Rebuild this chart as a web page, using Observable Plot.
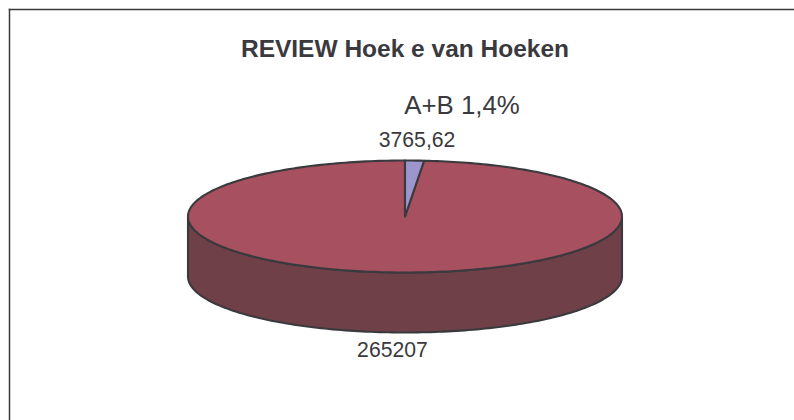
<!DOCTYPE html>
<html>
<head>
<meta charset="utf-8">
<style>html,body{margin:0;padding:0;background:#fff}svg{display:block}</style>
<script src="https://cdn.jsdelivr.net/npm/d3@7"></script>
<script src="https://cdn.jsdelivr.net/npm/@observablehq/plot@0.6"></script>
</head>
<body>
<script>
const title = "REVIEW Hoek e van Hoeken";
const categories = ["A+B", "Rest"];
const values = [3765.62, 265207];
const valueLabels = ["3765,62", "265207"];
const percentLabel = "A+B 1,4%";
const sliceColors = ["#9c96cc", "#a65060"];
const sideColor = "#704048";
const ink = "#3a3a3e";

const total = d3.sum(values);
const depth = 60 / 56;            // cylinder height in pie units
const arc = (from, to) => {
  const n = Math.max(2, Math.ceil(Math.abs(to - from) / 0.02));
  return d3.range(n + 1).map(i => {
    const a = from + (to - from) * i / n;
    return {x: Math.sin(a), y: Math.cos(a)};
  });
};
const tau = 2 * Math.PI;
const split = tau * values[0] / total;

const centre = {x: 0, y: 0};
const wedge = (a, b) => [centre, ...arc(a, b)];
const front = arc(Math.PI / 2, 3 * Math.PI / 2);
const side = [...front, ...front.slice().reverse().map(p => ({x: p.x, y: p.y - depth}))];
const mid0 = split / 2, mid1 = (split + tau) / 2;

const line = (d, fill) => Plot.line(d, {
  x: "x", y: "y", fill, stroke: ink, strokeWidth: 2.1,
  curve: "linear-closed", strokeLinejoin: "round"
});

const chart = Plot.plot({
  width: 794, height: 420,
  marginLeft: 9, marginTop: 9, marginRight: 0, marginBottom: 0,
  x: {axis: null, domain: [-1, 1], range: [187.5, 621.5]},
  y: {axis: null, domain: [1, -1], range: [160, 272]},
  style: {fontFamily: "'Liberation Sans', Arial, sans-serif", background: "#fff", overflow: "visible"},
  marks: [
    Plot.frame({anchor: "left", stroke: ink, strokeWidth: 1.5}),
    Plot.frame({anchor: "top", stroke: ink, strokeWidth: 1.5}),
    line(side, sideColor),
    line(wedge(split, tau), sliceColors[1]),
    line(wedge(0, split), sliceColors[0]),
    Plot.text([title], {x: () => 0, frameAnchor: "top", text: d => d, dy: 30,
      fontSize: 24.5, fontWeight: "bold", fill: ink, lineAnchor: "top"}),
    Plot.text([percentLabel], {x: () => Math.sin(mid0), y: () => Math.cos(mid0), text: d => d,
      dx: 47.5, dy: -47, fontSize: 25.8, fill: ink, lineAnchor: "bottom"}),
    Plot.text([valueLabels[0]], {x: () => Math.sin(mid0), y: () => Math.cos(mid0), text: d => d,
      dx: 2.5, dy: -14, fontSize: 21.2, fill: ink, lineAnchor: "bottom"}),
    Plot.text([valueLabels[1]], {x: () => Math.sin(mid1), y: () => Math.cos(mid1) - depth, text: d => d,
      dx: -3, dy: 9, fontSize: 21.2, fill: ink, lineAnchor: "top"})
  ]
});
document.body.appendChild(chart);
</script>
</body>
</html>
